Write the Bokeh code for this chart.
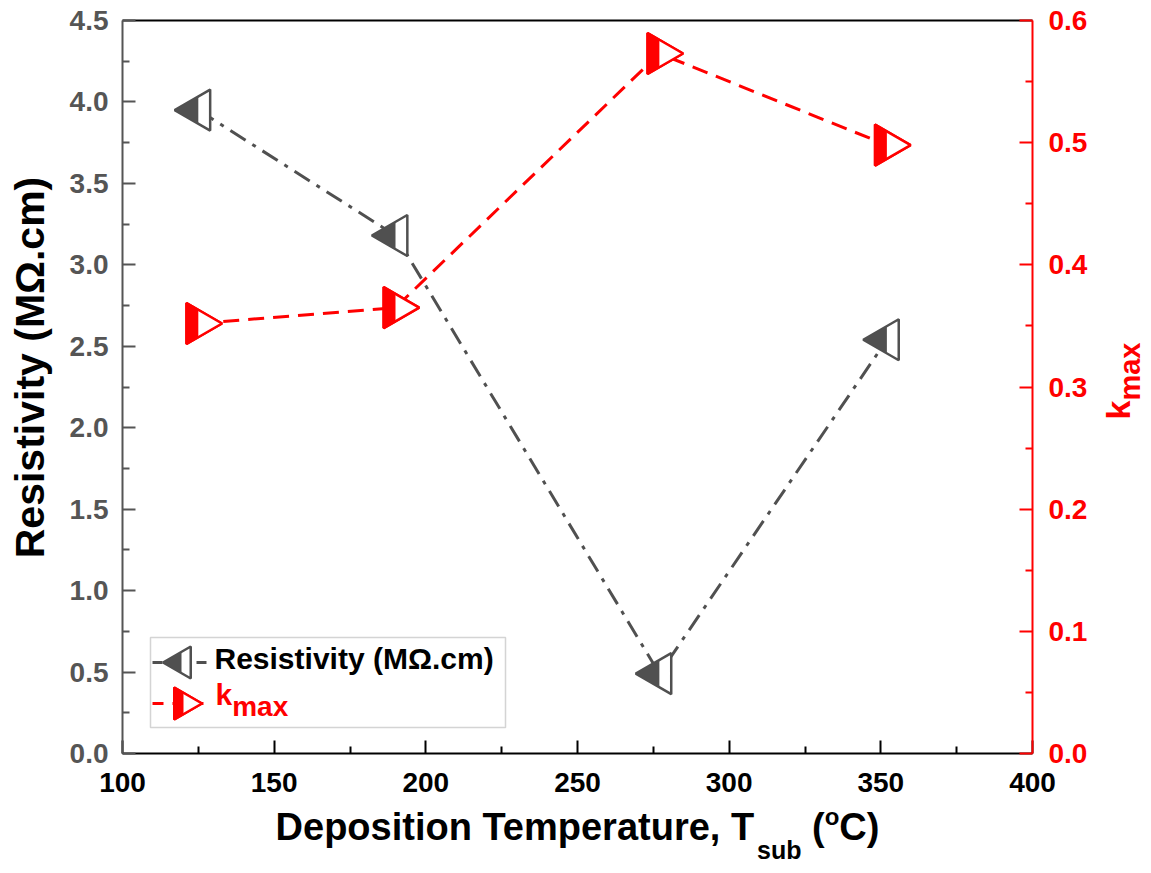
import math

from bokeh.embed import file_html
from bokeh.models import (BoxAnnotation, FixedTicker, Label, LinearAxis,
                          PrintfTickFormatter, Range1d)
from bokeh.plotting import figure
from bokeh.resources import INLINE

# ---- data -------------------------------------------------------------
temperature_c = [125, 190, 277, 352]
resistivity_mohm_cm = [3.95, 3.18, 0.49, 2.54]
k_max = [0.352, 0.365, 0.573, 0.498]

x_ticks = [100, 150, 200, 250, 300, 350, 400]
res_ticks = [0.0, 0.5, 1.0, 1.5, 2.0, 2.5, 3.0, 3.5, 4.0, 4.5]
k_ticks = [0.0, 0.1, 0.2, 0.3, 0.4, 0.5, 0.6]

legend_labels = ["Resistivity (MΩ.cm)", "k", "max"]

# ---- layout / style ---------------------------------------------------
W, H = 1151, 873
# pixel margins around the data box (the canvas itself is the plot frame,
# the axes are pinned to the data box edges with fixed_location)
LEFT, RIGHT, TOP, BOTTOM = 122, 119, 20, 120
BOX_W = W - LEFT - RIGHT
BOX_H = H - TOP - BOTTOM
X0, X1 = x_ticks[0], x_ticks[-1]
Y0, Y1 = res_ticks[0], res_ticks[-1]
K0, K1 = k_ticks[0], k_ticks[-1]

XPP = (X1 - X0) / BOX_W
YPP = (Y1 - Y0) / BOX_H
KPP = (K1 - K0) / BOX_H
x_range = Range1d(X0 - LEFT * XPP, X1 + RIGHT * XPP)
y_range = Range1d(Y0 - BOTTOM * YPP, Y1 + TOP * YPP)
k_range = Range1d(K0 - BOTTOM * KPP, K1 + TOP * KPP)

GRAY = "#505050"
AXGRAY = "#555555"
RED = "#ff0000"
FONT = "Liberation Sans"
MID = 0.35  # distance from baseline to the middle of the em box, in em

# Liberation Sans Bold advance widths (em) for chaining text pieces
ADV = {' ': 0.278, '(': 0.333, ')': 0.333, ',': 0.278, '.': 0.278, 'C': 0.722,
       'D': 0.722, 'T': 0.611, 'a': 0.556, 'b': 0.611, 'e': 0.556, 'i': 0.278,
       'm': 0.889, 'n': 0.611, 'o': 0.611, 'p': 0.611, 'r': 0.389, 's': 0.556,
       't': 0.333, 'u': 0.611, 'k': 0.556, 'x': 0.556}


def text_width(s, size):
    return sum(ADV.get(c, 0.6) for c in s) * size


def px_x(px):
    return x_range.start + px * XPP


def px_y(py):
    return y_range.end - py * YPP


def midpoints(t):
    return [(a + b) / 2 for a, b in zip(t[:-1], t[1:])]


p = figure(width=W, height=H, x_range=x_range, y_range=y_range,
           output_backend="svg", toolbar_location=None,
           x_axis_location=None, y_axis_location=None,
           min_border=0)
p.extra_y_ranges = {"k": k_range}
p.grid.visible = False
p.outline_line_color = None
p.background_fill_color = "white"
p.border_fill_color = "white"


def style_axis(ax, color, label_color, standoff):
    ax.axis_line_color = color
    ax.axis_line_width = 2
    ax.major_tick_line_color = color
    ax.major_tick_line_width = 2
    ax.minor_tick_line_color = color
    ax.minor_tick_line_width = 2
    ax.major_tick_in = 13
    ax.major_tick_out = 0
    ax.minor_tick_in = 7
    ax.minor_tick_out = 0
    ax.major_label_text_font = FONT
    ax.major_label_text_font_style = "bold"
    ax.major_label_text_font_size = "28px"
    ax.major_label_text_color = label_color
    ax.major_label_standoff = standoff


xa = LinearAxis(ticker=FixedTicker(ticks=x_ticks, minor_ticks=midpoints(x_ticks)),
                formatter=PrintfTickFormatter(format="%d"),
                fixed_location=Y0, bounds=(X0, X1))
style_axis(xa, "black", "black", 19)
p.add_layout(xa, "below")

ya = LinearAxis(ticker=FixedTicker(ticks=res_ticks, minor_ticks=midpoints(res_ticks)),
                formatter=PrintfTickFormatter(format="%.1f"),
                fixed_location=X0, bounds=(Y0, Y1))
style_axis(ya, AXGRAY, AXGRAY, 14)
p.add_layout(ya, "left")

ka = LinearAxis(y_range_name="k",
                ticker=FixedTicker(ticks=k_ticks, minor_ticks=midpoints(k_ticks)),
                formatter=PrintfTickFormatter(format="%.1f"),
                fixed_location=X1, bounds=(K0, K1))
style_axis(ka, RED, RED, 16)
p.add_layout(ka, "right")

# top edge of the data box
p.line([X0, X1], [Y1, Y1], line_color="black", line_width=2)

# ---- series lines -----------------------------------------------------
p.line(temperature_c, resistivity_mohm_cm, line_color=GRAY, line_width=3,
       line_dash="18 8 4 8")
p.line(temperature_c, k_max, y_range_name="k", line_color=RED, line_width=3,
       line_dash="16 9")


# ---- half-filled triangle markers ------------------------------------
def half_triangles(xs, ys, color, size, pointing, **kw):
    h = size / 2 * math.sqrt(3)
    shift = 2 * h / 9 * XPP  # centroid offset of the 2/3-scale tip triangle
    if pointing == "left":
        ang = math.pi / 2
        p.scatter(xs, ys, marker="triangle", size=size, angle=ang,
                  fill_color="white", line_color=color, line_width=2.5, **kw)
        p.scatter([x - shift for x in xs], ys, marker="triangle", size=size * 2 / 3,
                  angle=ang, fill_color=color, line_color=None, **kw)
    else:
        ang = -math.pi / 2
        p.scatter(xs, ys, marker="triangle", size=size, angle=ang,
                  fill_color=color, line_color=color, line_width=2.5, **kw)
        p.scatter([x + shift for x in xs], ys, marker="triangle", size=size * 2 / 3,
                  angle=ang, fill_color="white", line_color=None, **kw)
        p.scatter(xs, ys, marker="triangle", size=size, angle=ang,
                  fill_color=None, line_color=color, line_width=2.5, **kw)


half_triangles(temperature_c, resistivity_mohm_cm, GRAY, 41, "left")
half_triangles(temperature_c, k_max, RED, 41, "right", y_range_name="k")


# ---- text helpers ------------------------------------------------------
def label(px, py, text, size, color="black", align="left", vertical=False):
    """Place text by its baseline (horizontal) or baseline x (rotated 90°)."""
    if vertical:
        ax, ay, ang = px - MID * size, py, math.pi / 2
    else:
        ax, ay, ang = px, py - MID * size, 0.0
    p.add_layout(Label(x=px_x(ax), y=px_y(ay), text=text, text_font=FONT,
                       text_font_size=f"{size}px", text_font_style="bold",
                       text_color=color, text_align=align,
                       text_baseline="middle", angle=ang))


# x axis title with subscript and superscript
BASE = 840
pieces = [("Deposition Temperature, T", 38, 0), ("sub", 25, 18),
          (" ", 38, None), ("(", 38, 0), ("o", 24, -16), ("C)", 38, 0)]
total = sum(text_width(t, s) for t, s, _ in pieces)
cx = LEFT + BOX_W / 2 - total / 2
for t, s, dy in pieces:
    if dy is not None:
        label(cx, BASE + dy, t, s)
    cx += text_width(t, s)

# left axis title
label(44, 367, "Resistivity (MΩ.cm)", 41, align="center", vertical=True)

# right axis title k_max
label(1129, 419, "k", 34, color=RED, vertical=True)
label(1140, 419 - text_width("k", 34), "max", 29, color=RED, vertical=True)

# ---- legend -----------------------------------------------------------
p.add_layout(BoxAnnotation(left=px_x(150), right=px_x(505), top=px_y(637),
                           bottom=px_y(727), fill_color="white", fill_alpha=1.0,
                           line_color="#707070", line_width=1.5, level="underlay"))

p.line([px_x(152), px_x(208)], [px_y(662)] * 2, line_color=GRAY, line_width=3,
       line_dash="10 34")
half_triangles([px_x(181)], [px_y(662)], GRAY, 32, "left")
label(214, 668, legend_labels[0], 30)

p.line([px_x(152), px_x(210)], [px_y(703)] * 2, line_color=RED, line_width=3,
       line_dash="11 9")
half_triangles([px_x(183)], [px_y(703)], RED, 32, "right")
label(215, 704, legend_labels[1], 30, color=RED)
label(215 + text_width("k", 30), 716, legend_labels[2], 28, color=RED)

open("out.html", "w").write(file_html(p, INLINE))
